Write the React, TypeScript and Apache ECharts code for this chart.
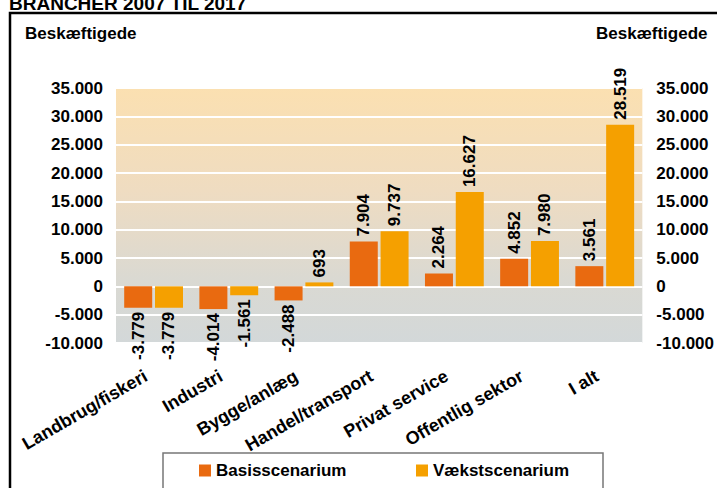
import React, { useEffect, useRef } from "react";
import * as echarts from "echarts";

const categories = [
  "Landbrug/fiskeri",
  "Industri",
  "Bygge/anlæg",
  "Handel/transport",
  "Privat service",
  "Offentlig sektor",
  "I alt",
];
const basisValues = [-3779, -4014, -2488, 7904, 2264, 4852, 3561];
const vaekstValues = [-3779, -1561, 693, 9737, 16627, 7980, 28519];
const seriesNames = ["Basisscenarium", "Vækstscenarium"];
const yMin = -10000;
const yMax = 35000;
const yInterval = 5000;

const FONT = "'Liberation Sans', Arial, sans-serif";

function fmt(v: number): string {
  const s = Math.abs(v)
    .toString()
    .replace(/\B(?=(\d{3})+(?!\d))/g, ".");
  return (v < 0 ? "-" : "") + s;
}

function withLabels(values: number[]) {
  return values.map((v) => ({
    value: v,
    label:
      v >= 0
        ? { position: "top", align: "left", distance: 5 }
        : { position: "bottom", align: "right", distance: 4 },
  }));
}

export default function App() {
  const ref = useRef<HTMLDivElement>(null);
  useEffect(() => {
    if (!ref.current) return;
    const chart = echarts.init(ref.current, null, { renderer: "svg" });
    const labelBase = {
      show: true,
      rotate: 90,
      verticalAlign: "middle",
      fontFamily: FONT,
      fontWeight: "bold",
      fontSize: 17,
      color: "#000",
      formatter: (p: any) => fmt(p.value),
    };
    const axisLabel = {
      fontFamily: FONT,
      fontWeight: "bold",
      fontSize: 17,
      color: "#000",
      formatter: (v: number) => fmt(v),
    };
    const legendText = { fontFamily: FONT, fontWeight: "bold", fontSize: 17, color: "#000" };
    chart.setOption({
      animation: false,
      backgroundColor: "#fff",
      grid: {
        left: 116,
        right: 73,
        top: 88,
        bottom: 145,
        show: true,
        borderWidth: 0,
        backgroundColor: new echarts.graphic.LinearGradient(0, 0, 0, 1, [
          { offset: 0, color: "#FBE0B1" },
          { offset: 0.4, color: "#EFDCC1" },
          { offset: 0.75, color: "#DAD9D2" },
          { offset: 1, color: "#D3D8D9" },
        ]),
      },
      legend: [
        {
          data: [seriesNames[0]],
          left: 199,
          top: 462,
          padding: 0,
          icon: "rect",
          itemWidth: 12,
          itemHeight: 12,
          textStyle: legendText,
        },
        {
          data: [seriesNames[1]],
          left: 416,
          top: 462,
          padding: 0,
          icon: "rect",
          itemWidth: 12,
          itemHeight: 12,
          textStyle: legendText,
        },
      ],
      xAxis: {
        type: "category",
        data: categories,
        axisLine: { show: false, onZero: false },
        axisTick: { show: false },
        axisLabel: {
          rotate: 30,
          margin: 27,
          interval: 0,
          padding: [0, 9, 0, 0],
          fontFamily: FONT,
          fontWeight: "bold",
          fontSize: 18,
          color: "#000",
        },
      },
      yAxis: [
        {
          type: "value",
          min: yMin,
          max: yMax,
          interval: yInterval,
          position: "left",
          axisLine: { show: false },
          axisTick: { show: false },
          splitLine: { show: true, lineStyle: { color: "#fff", width: 2 } },
          axisLabel: { ...axisLabel, margin: 13 },
        },
        {
          type: "value",
          min: yMin,
          max: yMax,
          interval: yInterval,
          position: "right",
          axisLine: { show: false },
          axisTick: { show: false },
          splitLine: { show: false },
          axisLabel: { ...axisLabel, margin: 14 },
        },
      ],
      series: [
        {
          name: seriesNames[0],
          type: "bar",
          barWidth: 28,
          barGap: "10%",
          itemStyle: { color: "#E96A10" },
          label: labelBase,
          data: withLabels(basisValues),
          z: 3,
        },
        {
          name: seriesNames[1],
          type: "bar",
          barWidth: 28,
          barGap: "10%",
          itemStyle: { color: "#F5A000" },
          label: labelBase,
          data: withLabels(vaekstValues),
          z: 3,
        },
      ],
      graphic: [
        {
          type: "text",
          left: 9,
          top: -6,
          style: {
            text: "BRANCHER 2007 TIL 2017",
            fontFamily: FONT,
            fontWeight: "bold",
            fontSize: 19,
            fill: "#000",
          },
        },
        {
          type: "rect",
          shape: { x: 10, y: 13, width: 740, height: 520 },
          style: { fill: "none", stroke: "#000", lineWidth: 2.5 },
          z: 10,
        },
        {
          type: "rect",
          shape: { x: 163, y: 453, width: 440, height: 60 },
          style: { fill: "#fff", stroke: "#777", lineWidth: 1.5 },
          z: -1,
        },
        {
          type: "text",
          x: 25,
          y: 33,
          style: {
            text: "Beskæftigede",
            fontFamily: FONT,
            fontWeight: "bold",
            fontSize: 17,
            fill: "#000",
            textVerticalAlign: "middle",
          },
        },
        {
          type: "text",
          x: 596,
          y: 33,
          style: {
            text: "Beskæftigede",
            fontFamily: FONT,
            fontWeight: "bold",
            fontSize: 17,
            fill: "#000",
            textVerticalAlign: "middle",
          },
        },
      ],
    });
    return () => chart.dispose();
  }, []);
  return (
    <div
      ref={ref}
      style={{ position: "fixed", left: 0, top: 0, width: 717, height: 488 }}
    />
  );
}
